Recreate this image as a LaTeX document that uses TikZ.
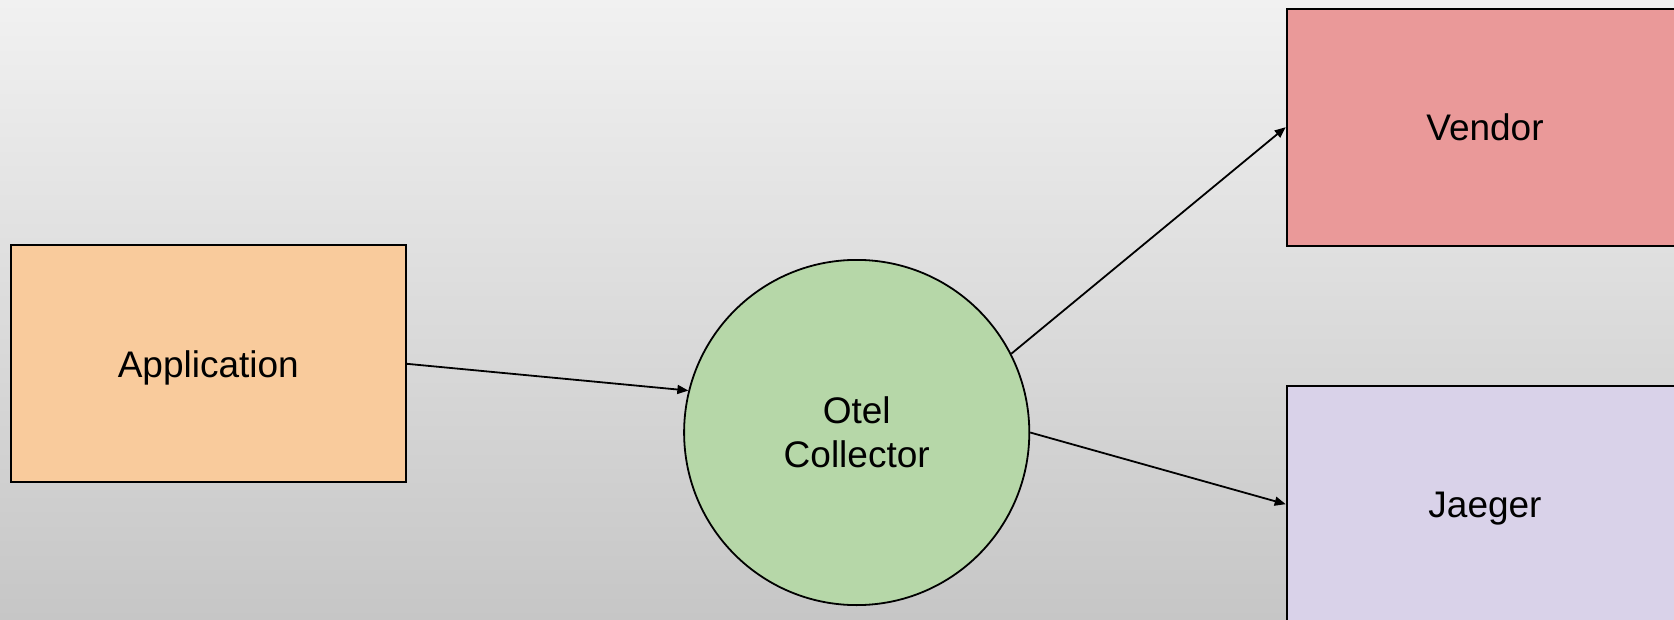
\documentclass[tikz,border=0pt]{standalone}
\usepackage{fontspec}
\setmainfont{Liberation Sans}
\usetikzlibrary{arrows.meta}
\definecolor{bgtop}{RGB}{241,241,241}
\definecolor{bgbot}{RGB}{198,198,198}
\definecolor{appfill}{HTML}{F9CB9C}
\definecolor{colfill}{HTML}{B6D7A8}
\definecolor{vendfill}{HTML}{EA9999}
\definecolor{jaegfill}{HTML}{D9D2E9}
\tikzset{
  label font/.style={font=\fontsize{18.5}{22}\selectfont, align=center,
    text height=13.2pt, text depth=0pt},
  box/.style={draw=black, line width=1pt, rectangle, inner sep=0pt, label font},
  % two-line label: height covers both lines down to the last baseline
  hub/.style={draw=black, line width=0.9pt, circle, inner sep=0pt,
    minimum size=172.6pt, label font, text height=35.2pt},
  flow/.style={draw=black, line width=0.9pt,
    -{Triangle[length=5.5pt,width=4.5pt]}}
}
\begin{document}
\begin{tikzpicture}[x=0.5pt,y=-0.5pt]
  \useasboundingbox (0,0) rectangle (1674,620);
  \clip (0,0) rectangle (1674,620);
  % backdrop
  \shade[top color=bgtop, bottom color=bgbot] (0,0) rectangle (1674,620);
  % nodes
  \node[box, fill=appfill, minimum width=197.4pt, minimum height=118.5pt]
    (app) at (208.3,363.8) {Application};
  \node[hub, fill=colfill] (col) at (856.7,432.5) {Otel\\Collector};
  \node[box, fill=vendfill, minimum width=198.3pt, minimum height=118.5pt]
    (vend) at (1485,127.2) {Vendor};
  \node[box, fill=jaegfill, minimum width=198.3pt, minimum height=118.5pt]
    (jaeg) at (1485,504.2) {Jaeger};
  % connectors
  \draw[flow] (app.east) -- (col.166);
  \draw[flow] (col.27) -- (vend.west);
  \draw[flow] (col.east) -- (jaeg.west);
\end{tikzpicture}
\end{document}
